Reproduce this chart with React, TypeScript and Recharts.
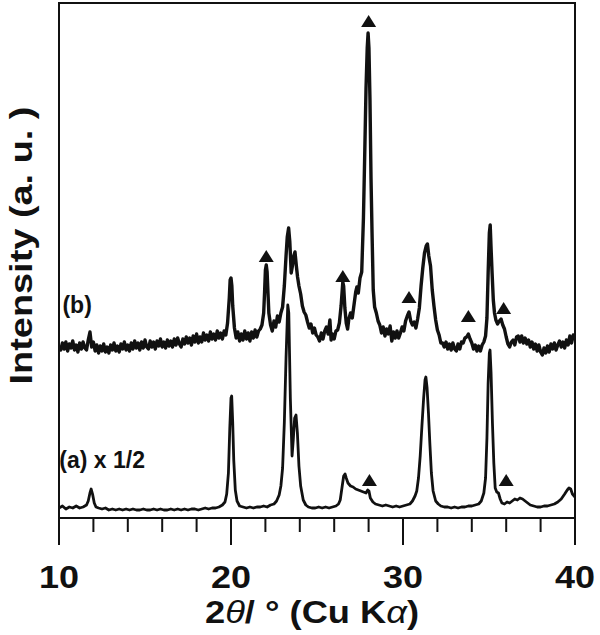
import {
  ComposedChart,
  Line,
  Scatter,
  XAxis,
  YAxis,
  ReferenceArea,
  ReferenceDot,
} from "recharts";

// x axis ticks (2θ / °)
const majorTicks = [10, 20, 30, 40];
const allTicks = [10, 12, 14, 16, 18, 20, 22, 24, 26, 28, 30, 32, 34, 36, 38, 40];

// (a) pattern, shown x 1/2 -- [2θ, intensity]
const patternA: [number, number][] = [
  [10.0, 10], [10.2, 12], [10.4, 9], [10.6, 11], [10.8, 10], [11.0, 12], [11.2, 10], [11.4, 11],
  [11.6, 13], [11.7, 17], [11.8, 25], [11.87, 29], [11.95, 24], [12.05, 15], [12.15, 11], [12.3, 10],
  [12.5, 9], [12.7, 10], [12.9, 8], [13.1, 9], [13.3, 8], [13.5, 9], [13.7, 8], [13.9, 9],
  [14.1, 8], [14.3, 9], [14.5, 8], [14.7, 8], [14.9, 9], [15.1, 8], [15.3, 8], [15.5, 9],
  [15.7, 8], [15.9, 9], [16.1, 8], [16.3, 8], [16.5, 9], [16.7, 8], [16.9, 9], [17.1, 8],
  [17.3, 9], [17.5, 8], [17.7, 9], [17.9, 9], [18.1, 8], [18.3, 9], [18.5, 10], [18.7, 9],
  [18.9, 10], [19.1, 10], [19.3, 11], [19.5, 13], [19.65, 16], [19.75, 24], [19.85, 45], [19.93, 90],
  [20.0, 120], [20.04, 122], [20.1, 95], [20.16, 58], [20.25, 28], [20.35, 17], [20.5, 12], [20.7, 11],
  [20.9, 10], [21.1, 11], [21.3, 10], [21.5, 11], [21.7, 11], [21.9, 12], [22.1, 11], [22.3, 13],
  [22.5, 14], [22.65, 17], [22.8, 23], [22.9, 32], [23.0, 50], [23.1, 95], [23.2, 160], [23.3, 213],
  [23.36, 205], [23.45, 120], [23.55, 62], [23.62, 78], [23.7, 100], [23.78, 103], [23.86, 85], [23.95, 52],
  [24.05, 32], [24.2, 18], [24.35, 13], [24.5, 11], [24.7, 10], [24.9, 10], [25.1, 11], [25.3, 10],
  [25.5, 11], [25.7, 10], [25.9, 11], [26.1, 12], [26.25, 14], [26.35, 18], [26.45, 30], [26.55, 42],
  [26.63, 44], [26.7, 40], [26.8, 35], [26.95, 32], [27.1, 31], [27.25, 29], [27.4, 28], [27.55, 27],
  [27.7, 26], [27.85, 25], [27.95, 28], [28.02, 27], [28.1, 20], [28.25, 16], [28.4, 14], [28.6, 13],
  [28.8, 12], [29.0, 13], [29.2, 12], [29.4, 11], [29.6, 12], [29.8, 11], [30.0, 12], [30.2, 13],
  [30.4, 14], [30.55, 17], [30.7, 22], [30.8, 27], [30.9, 40], [31.0, 62], [31.1, 92], [31.2, 120],
  [31.28, 138], [31.33, 141], [31.4, 130], [31.48, 105], [31.56, 75], [31.65, 45], [31.75, 27], [31.9, 17],
  [32.05, 14], [32.2, 12], [32.4, 11], [32.6, 11], [32.8, 10], [33.0, 11], [33.2, 10], [33.4, 11],
  [33.6, 11], [33.8, 12], [34.0, 12], [34.2, 13], [34.4, 14], [34.55, 17], [34.7, 25], [34.8, 40],
  [34.88, 80], [34.95, 135], [35.02, 165], [35.06, 168], [35.12, 145], [35.2, 95], [35.28, 55], [35.36, 30],
  [35.45, 26], [35.55, 25], [35.65, 19], [35.75, 15], [35.9, 14], [36.05, 16], [36.2, 15], [36.35, 17],
  [36.5, 19], [36.65, 18], [36.8, 20], [36.95, 19], [37.1, 17], [37.25, 15], [37.4, 13], [37.6, 12],
  [37.8, 11], [38.0, 11], [38.2, 12], [38.4, 12], [38.6, 13], [38.8, 14], [39.0, 16], [39.2, 19],
  [39.4, 24], [39.55, 28], [39.65, 30], [39.75, 29], [39.85, 24], [40.0, 21],
];

// (b) pattern -- [2θ, intensity]
const patternB: [number, number][] = [
  [10.0, 172], [10.1, 168], [10.2, 175], [10.3, 169], [10.4, 176], [10.5, 167], [10.6, 174], [10.7, 170],
  [10.8, 177], [10.9, 168], [11.0, 173], [11.1, 166], [11.2, 175], [11.3, 169], [11.4, 176], [11.5, 170],
  [11.6, 168], [11.7, 178], [11.8, 186], [11.9, 171], [12.0, 176], [12.1, 167], [12.2, 173], [12.3, 165],
  [12.4, 172], [12.5, 167], [12.6, 174], [12.7, 166], [12.8, 171], [12.9, 165], [13.0, 173], [13.1, 168],
  [13.2, 175], [13.3, 167], [13.4, 172], [13.5, 166], [13.6, 174], [13.7, 169], [13.8, 176], [13.9, 168],
  [14.0, 173], [14.1, 167], [14.2, 175], [14.3, 169], [14.4, 177], [14.5, 170], [14.6, 175], [14.7, 168],
  [14.8, 176], [14.9, 170], [15.0, 178], [15.1, 171], [15.2, 169], [15.3, 177], [15.4, 171], [15.5, 176],
  [15.6, 169], [15.7, 177], [15.8, 172], [15.9, 179], [16.0, 171], [16.1, 176], [16.2, 170], [16.3, 178],
  [16.4, 172], [16.5, 177], [16.6, 171], [16.7, 179], [16.8, 173], [16.9, 180], [17.0, 174], [17.1, 171],
  [17.2, 179], [17.3, 174], [17.4, 181], [17.5, 175], [17.6, 180], [17.7, 173], [17.8, 182], [17.9, 176],
  [18.0, 184], [18.1, 175], [18.2, 181], [18.3, 176], [18.4, 185], [18.5, 178], [18.6, 183], [18.7, 177],
  [18.8, 186], [18.9, 179], [19.0, 184], [19.1, 178], [19.2, 187], [19.3, 180], [19.4, 185], [19.5, 179],
  [19.6, 187], [19.7, 183], [19.8, 195], [19.9, 220], [19.95, 238], [20.0, 240], [20.05, 232], [20.1, 212],
  [20.2, 190], [20.3, 180], [20.4, 186], [20.5, 177], [20.6, 184], [20.7, 178], [20.8, 187], [20.9, 179],
  [21.0, 185], [21.1, 177], [21.2, 186], [21.3, 180], [21.4, 188], [21.5, 181], [21.6, 187], [21.7, 189],
  [21.8, 193], [21.9, 205], [21.95, 225], [22.0, 248], [22.05, 253], [22.1, 246], [22.15, 225], [22.2, 205],
  [22.3, 193], [22.4, 187], [22.5, 197], [22.6, 191], [22.7, 202], [22.8, 196], [22.9, 205], [23.0, 211],
  [23.1, 232], [23.2, 262], [23.27, 281], [23.35, 290], [23.42, 276], [23.5, 245], [23.57, 252], [23.65, 262],
  [23.72, 266], [23.8, 252], [23.87, 241], [23.95, 232], [24.05, 224], [24.15, 212], [24.25, 206], [24.35, 203],
  [24.45, 196], [24.55, 190], [24.65, 194], [24.75, 185], [24.85, 190], [24.95, 183], [25.05, 181], [25.15, 177],
  [25.25, 185], [25.35, 179], [25.45, 187], [25.55, 191], [25.65, 184], [25.75, 198], [25.82, 178], [25.9, 184],
  [26.0, 179], [26.1, 187], [26.2, 188], [26.3, 195], [26.4, 212], [26.5, 236], [26.55, 232], [26.62, 210],
  [26.7, 195], [26.78, 189], [26.85, 199], [26.95, 205], [27.05, 200], [27.15, 213], [27.25, 226], [27.32, 231],
  [27.4, 225], [27.5, 240], [27.6, 246], [27.7, 300], [27.78, 368], [27.85, 430], [27.92, 470], [27.97, 485],
  [28.02, 470], [28.08, 418], [28.14, 340], [28.2, 285], [28.27, 228], [28.35, 211], [28.45, 205], [28.55, 197],
  [28.65, 193], [28.75, 185], [28.85, 191], [28.95, 182], [29.05, 189], [29.15, 184], [29.25, 192], [29.35, 177],
  [29.45, 186], [29.55, 180], [29.65, 187], [29.75, 180], [29.85, 185], [29.95, 191], [30.05, 187], [30.15, 197],
  [30.25, 202], [30.35, 206], [30.45, 197], [30.55, 193], [30.65, 196], [30.75, 190], [30.85, 199], [30.95, 210],
  [31.05, 232], [31.15, 250], [31.25, 265], [31.35, 272], [31.42, 274], [31.5, 262], [31.6, 252], [31.7, 228],
  [31.8, 212], [31.9, 198], [32.0, 188], [32.1, 183], [32.2, 175], [32.3, 175], [32.4, 171], [32.5, 176],
  [32.6, 169], [32.7, 174], [32.8, 168], [32.9, 175], [33.0, 169], [33.1, 167], [33.2, 174], [33.3, 169],
  [33.4, 176], [33.5, 175], [33.6, 180], [33.7, 181], [33.8, 184], [33.9, 179], [34.0, 175], [34.1, 169],
  [34.2, 173], [34.3, 167], [34.4, 172], [34.5, 167], [34.6, 173], [34.7, 176], [34.8, 182], [34.88, 200],
  [34.95, 245], [35.02, 285], [35.07, 293], [35.12, 270], [35.18, 245], [35.25, 218], [35.32, 205], [35.4, 198],
  [35.5, 194], [35.6, 197], [35.7, 199], [35.8, 193], [35.9, 189], [36.0, 181], [36.1, 174], [36.2, 171],
  [36.3, 176], [36.4, 178], [36.5, 173], [36.6, 181], [36.7, 182], [36.8, 176], [36.9, 182], [37.0, 175],
  [37.1, 180], [37.2, 174], [37.3, 178], [37.4, 171], [37.5, 176], [37.6, 169], [37.7, 174], [37.8, 167],
  [37.9, 173], [38.0, 166], [38.1, 163], [38.2, 170], [38.3, 165], [38.4, 172], [38.5, 166], [38.6, 174],
  [38.7, 169], [38.8, 175], [38.9, 168], [39.0, 173], [39.1, 177], [39.2, 171], [39.3, 176], [39.4, 170],
  [39.5, 178], [39.6, 173], [39.7, 182], [39.8, 175], [39.9, 183], [40.0, 178],
];

// ▲ markers above the assigned reflections
const markersA: [number, number][] = [[28.05, 38], [36.0, 38]];
const markersB: [number, number][] = [
  [22.05, 262], [26.5, 242], [28.0, 497], [30.35, 221], [33.8, 202], [35.85, 210],
];

// trace captions, placed at [2θ, intensity]
const captions: { text: string; t: number; v: number }[] = [
  { text: "(b)", t: 10.2, v: 205 },
  { text: "(a) x 1/2", t: 10.02, v: 50 },
];

const toRows = (pts: [number, number][]) => pts.map(([t, v]) => ({ t, v }));

const INK = "#111";
const FONT = "'Liberation Sans', Arial, Helvetica, sans-serif";

const XTick = (props: any) => {
  const { x, y, payload } = props;
  const major = majorTicks.includes(payload.value);
  return (
    <g>
      <line x1={x} x2={x} y1={y} y2={y + (major ? 27 : 14)} stroke={INK} strokeWidth={2} />
      {major && (
        <text
          x={x}
          y={y + 70}
          textAnchor="middle"
          fontFamily={FONT}
          fontWeight="bold"
          fontSize={32}
          fill={INK}
          textLength={40}
          lengthAdjust="spacingAndGlyphs"
        >
          {payload.value}
        </text>
      )}
    </g>
  );
};

const Triangle = (props: any) => {
  const { cx, cy } = props;
  return <path d={`M${cx - 7.5},${cy + 6} L${cx + 7.5},${cy + 6} L${cx},${cy - 6} Z`} fill={INK} />;
};

const xTitle = (props: any) => {
  const { x, y, width } = props.viewBox;
  return (
    <text
      x={x + width / 2 - 5}
      y={y + 105}
      textAnchor="middle"
      fontFamily={FONT}
      fontWeight="bold"
      fontSize={31}
      fill={INK}
      textLength={214}
      lengthAdjust="spacingAndGlyphs"
    >
      2<tspan fontStyle="italic" fontWeight="normal">θ</tspan>/ ° (Cu K
      <tspan fontStyle="italic" fontWeight="normal">α</tspan>)
    </text>
  );
};

const yTitle = (props: any) => {
  const { x, y, height } = props.viewBox;
  const cx = x + 32;
  const cy = y + height / 2 - 15;
  return (
    <text
      transform={`translate(${cx}, ${cy}) rotate(-90)`}
      textAnchor="middle"
      fontFamily={FONT}
      fontWeight="bold"
      fontSize={31}
      fill={INK}
      textLength={278}
      lengthAdjust="spacingAndGlyphs"
    >
      Intensity (a. u. )
    </text>
  );
};

const captionLabel = (text: string) => (props: any) => {
  const { x, y } = props.viewBox;
  return (
    <text x={x} y={y} fontFamily={FONT} fontWeight="bold" fontSize={23} fill={INK}>
      {text}
    </text>
  );
};

export default function App() {
  return (
    <div style={{ position: "absolute", left: 0, top: 0, background: "#fff" }}>
      <ComposedChart width={600} height={635} margin={{ top: 3, right: 25, left: 0, bottom: 0 }}>
        <XAxis
          dataKey="t"
          type="number"
          domain={[10, 40]}
          ticks={allTicks}
          interval={0}
          allowDataOverflow
          height={117}
          axisLine={false}
          tickLine={false}
          tickSize={0}
          tickMargin={0}
          tick={<XTick />}
          label={xTitle}
        />
        <YAxis
          dataKey="v"
          type="number"
          domain={[0, 515]}
          width={59}
          axisLine={false}
          tickLine={false}
          tick={false}
          allowDataOverflow
          label={yTitle}
        />
        <ReferenceArea x1={10} x2={40} y1={0} y2={515} fill="none" stroke={INK} strokeWidth={2} />
        <Line
          data={toRows(patternA)}
          dataKey="v"
          type="linear"
          stroke={INK}
          strokeWidth={2.8}
          dot={false}
          strokeLinejoin="round"
          isAnimationActive={false}
        />
        <Line
          data={toRows(patternB)}
          dataKey="v"
          type="linear"
          stroke={INK}
          strokeWidth={3.4}
          dot={false}
          strokeLinejoin="round"
          isAnimationActive={false}
        />
        <Scatter data={toRows(markersA)} dataKey="v" shape={Triangle} isAnimationActive={false} />
        <Scatter data={toRows(markersB)} dataKey="v" shape={Triangle} isAnimationActive={false} />
        {captions.map((c) => (
          <ReferenceDot
            key={c.text}
            x={c.t}
            y={c.v}
            r={0}
            fill="none"
            stroke="none"
            label={captionLabel(c.text)}
          />
        ))}
      </ComposedChart>
    </div>
  );
}
